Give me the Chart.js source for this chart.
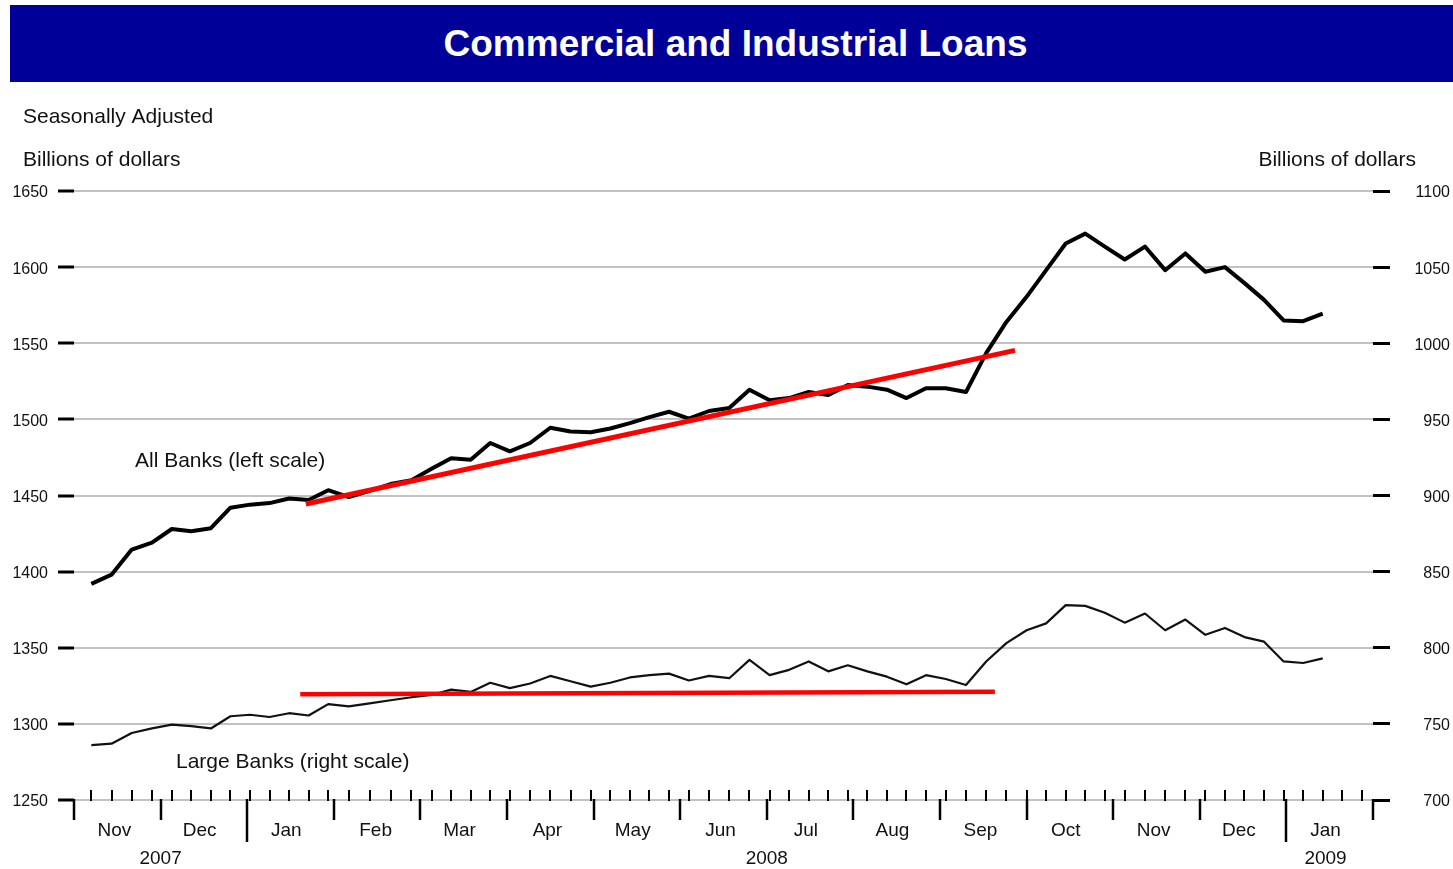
<!DOCTYPE html>
<html>
<head>
<meta charset="utf-8">
<title>Commercial and Industrial Loans</title>
<script src="https://cdn.jsdelivr.net/npm/chart.js@4/dist/chart.umd.min.js"></script>
<style>
  html, body { margin: 0; padding: 0; background: #fff; }
  #wrap { position: relative; width: 1453px; height: 869px; overflow: hidden; }
  #c { position: absolute; left: 0; top: 0; }
  #title {
    position: absolute; left: 10px; top: 5px; width: 1443px; height: 77px;
    background: #000099; color: #fff;
    font: bold 37px "Liberation Sans", Arial, Helvetica, sans-serif;
    display: flex; align-items: center; justify-content: center;
    padding-left: 8px; box-sizing: border-box;
  }
</style>
</head>
<body>
<div id="wrap">
  <canvas id="c" width="1453" height="869"></canvas>
  <div id="title">Commercial and Industrial Loans</div>
</div>
<script>
// Weekly observation dates (Wednesdays)
const weeks = [
  '2007-11-07','2007-11-14','2007-11-21','2007-11-28','2007-12-05','2007-12-12','2007-12-19','2007-12-26',
  '2008-01-02','2008-01-09','2008-01-16','2008-01-23','2008-01-30',
  '2008-02-06','2008-02-13','2008-02-20','2008-02-27',
  '2008-03-05','2008-03-12','2008-03-19','2008-03-26',
  '2008-04-02','2008-04-09','2008-04-16','2008-04-23','2008-04-30',
  '2008-05-07','2008-05-14','2008-05-21','2008-05-28',
  '2008-06-04','2008-06-11','2008-06-18','2008-06-25',
  '2008-07-02','2008-07-09','2008-07-16','2008-07-23','2008-07-30',
  '2008-08-06','2008-08-13','2008-08-20','2008-08-27',
  '2008-09-03','2008-09-10','2008-09-17','2008-09-24',
  '2008-10-01','2008-10-08','2008-10-15','2008-10-22','2008-10-29',
  '2008-11-05','2008-11-12','2008-11-19','2008-11-26',
  '2008-12-03','2008-12-10','2008-12-17','2008-12-24','2008-12-31',
  '2009-01-07','2009-01-14'
];

// All banks, billions of dollars (left scale)
const allBanks = [
  1392, 1398, 1414.5, 1419, 1428, 1426.5, 1428.5, 1442,
  1444, 1445, 1448, 1447, 1453.5,
  1449, 1453, 1457.5, 1460,
  1467.5, 1474.5, 1473.5, 1484.5,
  1479, 1484.5, 1494.5, 1492, 1491.5,
  1494, 1497.5, 1501.5, 1505,
  1500.5, 1505.5, 1507.5, 1519.5,
  1512.5, 1514, 1518, 1516, 1522.5,
  1521.5, 1519.5, 1514, 1520.5,
  1520.5, 1518, 1543.5, 1564,
  1580.5, 1598, 1615.5, 1622, 1613.5,
  1605, 1613.5, 1598, 1609,
  1597, 1600, 1589.5, 1578.5, 1565,
  1564.5, 1569.5
];

// Large banks, billions of dollars (right scale)
const largeBanks = [
  736, 737, 744, 747, 749.5, 748.5, 747, 755,
  756, 754.5, 757, 755.5, 763,
  761.5, 763.5, 765.5, 767.5,
  769, 772.5, 771, 777,
  773.5, 776.5, 781.5, 778, 774.5,
  777, 780.5, 782, 783,
  778.5, 781.5, 780, 792,
  782, 785.5, 791, 784.5, 788.5,
  784.5, 781, 776, 782,
  779.5, 775.5, 791, 803,
  811.5, 816, 828, 827.5, 823,
  816.5, 822.5, 811.5, 818.5,
  808.5, 813, 807, 804, 791,
  790, 793
];

// Trend lines
const allTrendDates = ['2008-01-22', '2008-09-27'];
const allTrendValues = [1444.4, 1545.3];
const largeTrendDates = ['2008-01-20', '2008-09-20'];
const largeTrendValues = [769.4, 771.1];

// Axis labelling
const leftTicks = [1250, 1300, 1350, 1400, 1450, 1500, 1550, 1600, 1650];
const rightTicks = [700, 750, 800, 850, 900, 950, 1000, 1050, 1100];
const extraTickWeeks = ['2009-01-21', '2009-01-28'];
const monthStarts = [
  '2007-11-01','2007-12-01','2008-01-01','2008-02-01','2008-03-01','2008-04-01','2008-05-01','2008-06-01',
  '2008-07-01','2008-08-01','2008-09-01','2008-10-01','2008-11-01','2008-12-01','2009-01-01','2009-02-01'
];
const monthLabels = ['Nov','Dec','Jan','Feb','Mar','Apr','May','Jun','Jul','Aug','Sep','Oct','Nov','Dec','Jan'];
const yearStarts = ['2008-01-01', '2009-01-01'];
const yearLabels = ['2007', '2008', '2009'];
const yearLabelDates = ['2007-12-01', '2008-07-01', '2009-01-15'];

// Position on the time axis, in months from Nov 2007 (each month the same width)
function monthPos(s) {
  const [y, m, d] = s.split('-').map(Number);
  const idx = (y - 2007) * 12 + (m - 11);
  const dim = new Date(Date.UTC(y, m, 0)).getUTCDate();
  return idx + (d - 1) / dim;
}

const toPoints = (dates, vals) => dates.map((d, i) => ({ x: monthPos(d), y: vals[i] }));

const FONT = '"Liberation Sans", Arial, Helvetica, sans-serif';
const INK = '#111';

const decor = {
  id: 'decor',
  afterDraw(chart) {
    const ctx = chart.ctx;
    const xs = chart.scales.x;
    const area = chart.chartArea;
    const base = area.bottom;
    const px = d => xs.getPixelForValue(monthPos(d));
    ctx.save();
    ctx.strokeStyle = '#000';
    ctx.lineCap = 'butt';

    // weekly ticks above the base line
    ctx.lineWidth = 2;
    weeks.concat(extraTickWeeks).forEach(d => {
      const x = Math.round(px(d));
      ctx.beginPath(); ctx.moveTo(x, base - 10); ctx.lineTo(x, base + 1); ctx.stroke();
    });

    // month and year boundaries below the base line
    ctx.lineWidth = 2.5;
    monthStarts.forEach(d => {
      const x = Math.round(px(d));
      const len = yearStarts.includes(d) ? 42 : 20;
      ctx.beginPath(); ctx.moveTo(x, base - 1); ctx.lineTo(x, base + len); ctx.stroke();
    });

    // month and year labels
    ctx.fillStyle = INK;
    ctx.textAlign = 'center';
    ctx.textBaseline = 'middle';
    ctx.font = '19px ' + FONT;
    monthLabels.forEach((lab, i) => {
      const s = monthStarts[i].slice(0, 8) + '15';
      ctx.fillText(lab, px(s), 831);
    });
    yearLabels.forEach((lab, i) => ctx.fillText(lab, px(yearLabelDates[i]), 859));

    // headings and series labels
    ctx.font = '21px ' + FONT;
    ctx.textAlign = 'left';
    ctx.fillText('Seasonally Adjusted', 23, 117);
    ctx.fillText('Billions of dollars', 23, 160);
    ctx.fillText('All Banks (left scale)', 135, 461);
    ctx.fillText('Large Banks (right scale)', 176, 762);
    ctx.textAlign = 'right';
    ctx.fillText('Billions of dollars', 1416, 160);
    ctx.restore();
  }
};

new Chart(document.getElementById('c'), {
  type: 'line',
  data: {
    datasets: [
      { label: 'All banks trend', data: toPoints(allTrendDates, allTrendValues), yAxisID: 'yL',
        borderColor: '#ff0000', borderWidth: 5, pointRadius: 0, borderCapStyle: 'butt' },
      { label: 'Large banks trend', data: toPoints(largeTrendDates, largeTrendValues), yAxisID: 'yR',
        borderColor: '#ff0000', borderWidth: 4.5, pointRadius: 0, borderCapStyle: 'butt' },
      { label: 'All Banks', data: toPoints(weeks, allBanks), yAxisID: 'yL',
        borderColor: '#000', borderWidth: 4, pointRadius: 0, borderJoinStyle: 'round', tension: 0 },
      { label: 'Large Banks', data: toPoints(weeks, largeBanks), yAxisID: 'yR',
        borderColor: '#111', borderWidth: 2.2, pointRadius: 0, borderJoinStyle: 'round', tension: 0 }
    ]
  },
  options: {
    responsive: false,
    devicePixelRatio: 1,
    animation: false,
    layout: { padding: { left: 0, right: 3, top: 191, bottom: 69 } },
    plugins: { legend: { display: false }, tooltip: { enabled: false }, title: { display: false } },
    scales: {
      x: { type: 'linear', min: 0, max: monthStarts.length - 1, display: false },
      yL: {
        position: 'left', min: leftTicks[0], max: leftTicks[leftTicks.length - 1],
        afterFit: s => { s.width = 74; },
        afterBuildTicks: s => { s.ticks = leftTicks.map(v => ({ value: v })); },
        border: { display: false },
        grid: { color: '#c2c2c2', lineWidth: 2, tickColor: '#000', tickWidth: 3, tickLength: 16 },
        ticks: { padding: 10, labelOffset: 2, color: INK, font: { family: FONT, size: 16 }, callback: v => String(v) }
      },
      yR: {
        position: 'right', min: rightTicks[0], max: rightTicks[rightTicks.length - 1],
        afterFit: s => { s.width = 77; },
        afterBuildTicks: s => { s.ticks = rightTicks.map(v => ({ value: v })); },
        border: { display: false },
        grid: { drawOnChartArea: false, tickColor: '#000', tickWidth: 3, tickLength: 17 },
        ticks: { padding: 20, labelOffset: 2, crossAlign: 'far', color: INK, font: { family: FONT, size: 16 }, callback: v => String(v) }
      }
    }
  },
  plugins: [decor]
});
</script>
</body>
</html>
